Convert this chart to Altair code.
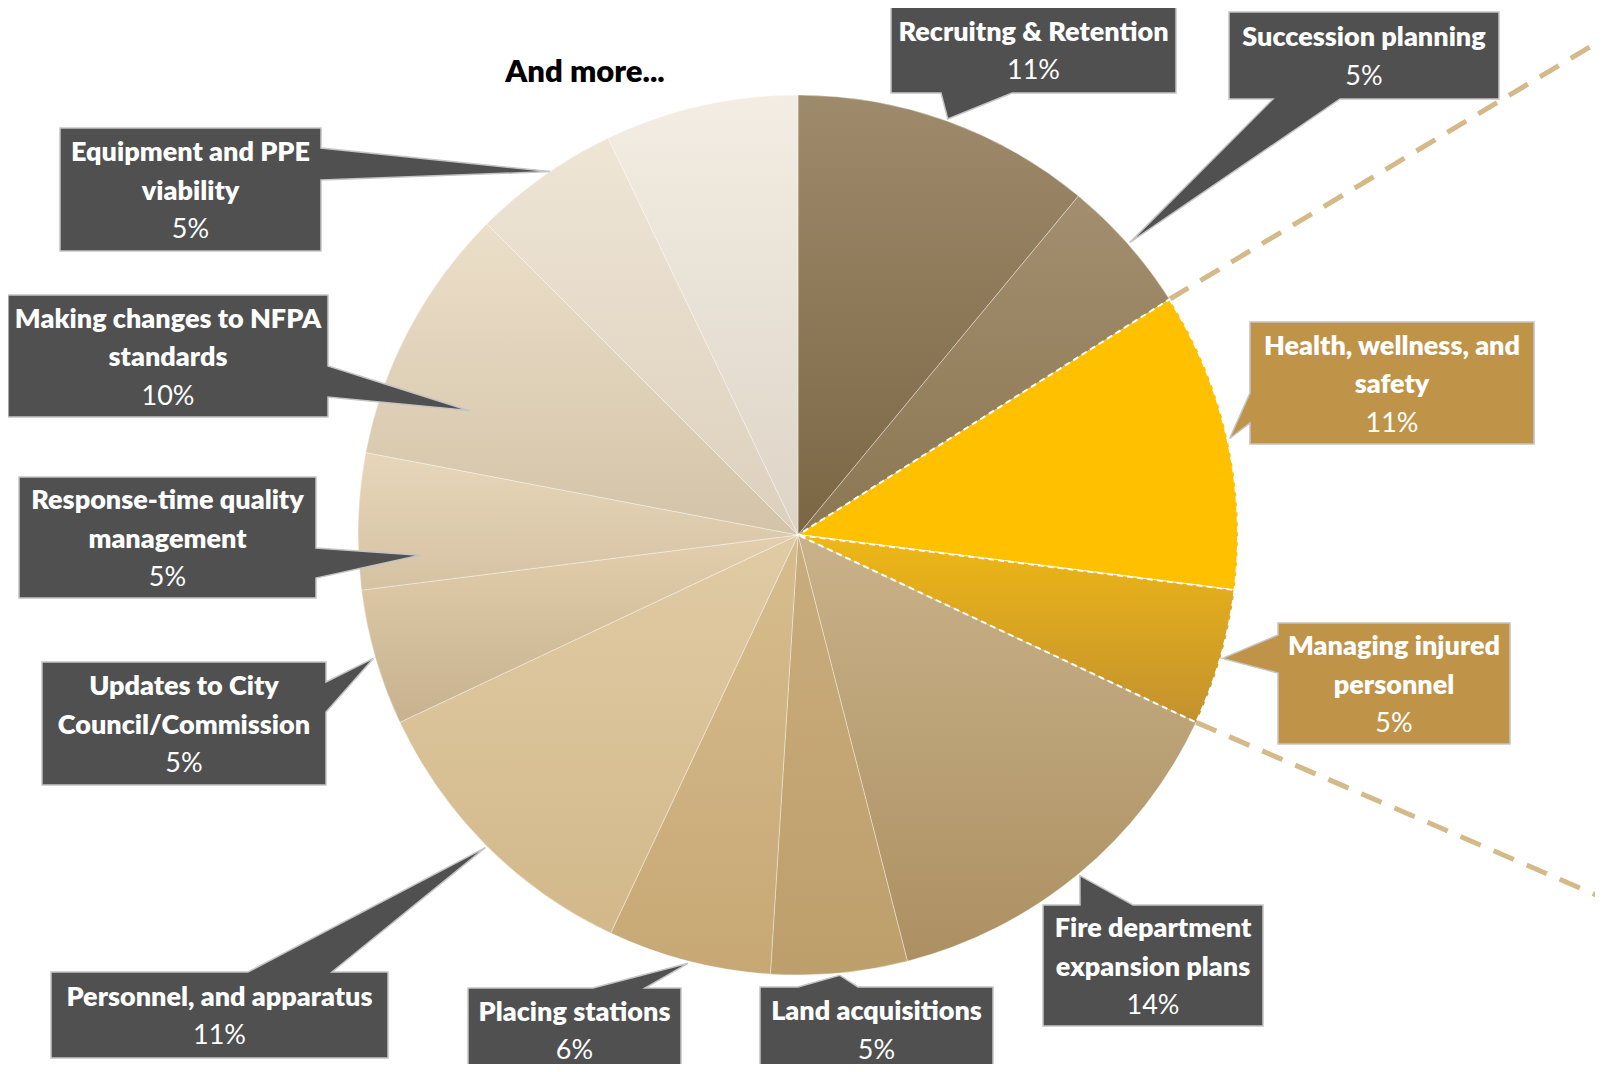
import math
import altair as alt
import pandas as pd

# ---------------- data ----------------
categories = [
    "Recruitng & Retention", "Succession planning", "Health, wellness, and safety",
    "Managing injured personnel", "Fire department expansion plans", "Land acquisitions",
    "Placing stations", "Personnel, and apparatus", "Updates to City Council/Commission",
    "Response-time quality management", "Making changes to NFPA standards",
    "Equipment and PPE viability", "And more...",
]
values = [11, 5, 11, 5, 14, 5, 6, 11, 5, 5, 9.5, 5.4, 7.1]
label_lines = [
    ["Recruitng & Retention"], ["Succession planning"], ["Health, wellness, and", "safety"],
    ["Managing injured", "personnel"], ["Fire department", "expansion plans"],
    ["Land acquisitions"], ["Placing stations"], ["Personnel, and apparatus"],
    ["Updates to City", "Council/Commission"], ["Response-time quality", "management"],
    ["Making changes to NFPA", "standards"], ["Equipment and PPE", "viability"], None,
]
highlight = [False, False, True, True, False, False, False, False, False, False, False, False, False]

# ---------------- styles ----------------
grad_top = ["#9e8b6b", "#a38f6f", "#FFC000", "#efb815", "#c9b189", "#c9ad7c", "#d7bd8e",
            "#e1cba5", "#e3cfad", "#e8d6ba", "#ecdfc9", "#efe5d5", "#f3ede3"]
grad_bot = ["#7b6644", "#8b7752", "#FFC000", "#c3912f", "#ac9062", "#bd9f6c", "#c7a875",
            "#d2b88a", "#c7b18e", "#d5c2a3", "#d3c3a8", "#dcd0bd", "#ddd4c6"]
DARK = "#505050"
GOLD = "#BF9448"
FONT = "Lato"
OFF = 8  # page margin
W, H = 1587, 1056
CX, CY, R = 798, 535, 440  # image coordinates
LH = 38.5
TEXT_DY = 2

# callout layout: box (x0,y0,x1,y1), side, pointer base (b0,b1), tip fraction in slice, tip radius factor
layout = [
    (891, 7, 1176, 93, "bottom", 941, 1012, 0.5, 1.005),
    (1229, 12, 1499, 99, "bottom", 1273, 1340, 0.5, 1.005),
    (1250, 322, 1534, 444, "left", 393, 423, 0.5, 1.005),
    (1278, 623, 1510, 744, "left", 635, 673, 0.5, 1.005),
    (1043, 905, 1263, 1026, "top", 1080, 1133, 0.5, 1.005),
    (760, 987, 993, 1072, "top", 798, 858, 0.5, 1.005),
    (468, 988, 681, 1072, "top", 593, 645, 0.5, 1.005),
    (51, 972, 388, 1058, "top", 248, 332, 0.5, 1.005),
    (42, 662, 326, 785, "right", 682, 712, 0.5, 1.005),
    (19, 477, 316, 598, "right", 548, 578, 0.23, 0.86),
    (8, 295, 328, 417, "right", 366, 397, 0.29, 0.80),
    (60, 128, 321, 251, "right", 148, 180, 0.55, 1.0),
    None,
]
more_pos = (585, 73)
rule_ends = [(1603, 39), (1603, 898)]

total = sum(values)
cum = []
s = 0
for v in values:
    cum.append(s)
    s += v


def ang(val):
    return 2 * math.pi * val / total


def polar(a, r):
    return CX + r * math.sin(a), CY - r * math.cos(a)


# ---------------- slices ----------------
df = pd.DataFrame({"idx": list(range(len(values))), "category": categories, "value": values})
base = alt.Chart(df).transform_window(
    cum="sum(value)", sort=[alt.SortField("idx", order="ascending")], frame=[None, 0]
).transform_calculate(start="datum.cum - datum.value")
theta_scale = alt.Scale(domain=[0, total], range=[0, 2 * math.pi])

arc_layers = []
order = [i for i in range(len(values)) if not highlight[i]] + [i for i in range(len(values)) if highlight[i]]
for i in order:
    grad = alt.LinearGradient(
        gradient="linear",
        stops=[alt.GradientStop(color=grad_top[i], offset=0), alt.GradientStop(color=grad_bot[i], offset=1)],
        x1=0, x2=0, y1=0, y2=1,
    )
    if highlight[i]:
        mk = dict(stroke="white", strokeDash=[6, 4], strokeWidth=2)
    else:
        mk = dict(stroke="white", strokeWidth=0.8, strokeOpacity=0.45)
    arc_layers.append(
        base.transform_filter(f"datum.idx == {i}")
        .mark_arc(radius=R, fill=grad, **mk)
        .encode(
            theta=alt.Theta("start:Q", scale=theta_scale),
            theta2="cum:Q",
            x=alt.value(CX - OFF),
            y=alt.value(CY - OFF),
        )
    )

# ---------------- connector dashed lines ----------------
b1 = ang(cum[2])  # end of Succession planning
b2 = ang(cum[4])  # end of Managing injured personnel
rows = []
for a, (ex, ey) in zip([b1, b2], rule_ends):
    sx, sy = polar(a, R)
    rows.append({"x": sx - OFF, "y": sy - OFF, "x2": ex - OFF, "y2": ey - OFF})
rules = alt.Chart(pd.DataFrame(rows)).mark_rule(
    color="#D4B989", strokeWidth=5, strokeDash=[22, 14]
).encode(
    x=alt.X("x:Q", scale=None, axis=None), y=alt.Y("y:Q", scale=None, axis=None),
    x2="x2:Q", y2="y2:Q",
)

# ---------------- callouts ----------------
co_rows, name_rows, pct_rows = [], [], []
for i, lay in enumerate(layout):
    if lay is None:
        continue
    x0, y0, x1, y1, side, p0, p1, frac, rf = lay
    tip = polar(ang(cum[i] + frac * values[i]), rf * R)
    pts = [(x0, y0)]
    if side == "top":
        pts += [(p0, y0), tip, (p1, y0)]
    pts.append((x1, y0))
    if side == "right":
        pts += [(x1, p0), tip, (x1, p1)]
    pts.append((x1, y1))
    if side == "bottom":
        pts += [(p1, y1), tip, (p0, y1)]
    pts.append((x0, y1))
    if side == "left":
        pts += [(x0, p1), tip, (x0, p0)]
    ax, ay = (x0 + x1) / 2, (y0 + y1) / 2
    path = "M" + " L".join(f"{px - ax:.1f},{py - ay:.1f}" for px, py in pts) + " Z"
    co_rows.append({"ax": ax - OFF, "ay": ay - OFF, "path": path,
                    "fill": GOLD if highlight[i] else DARK})
    lines = label_lines[i]
    n = len(lines) + 1
    for k, t in enumerate(lines):
        name_rows.append({"x": ax - OFF, "y": ay + TEXT_DY + (k - (n - 1) / 2) * LH - OFF, "text": t})
    pct_rows.append({"x": ax - OFF, "y": ay + TEXT_DY + ((n - 1) - (n - 1) / 2) * LH - OFF,
                     "text": f"{round(values[i])}%"})

callouts = alt.Chart(pd.DataFrame(co_rows)).mark_point(
    filled=True, size=4, opacity=1, strokeWidth=1.5
).encode(
    x=alt.X("ax:Q", scale=None, axis=None), y=alt.Y("ay:Q", scale=None, axis=None),
    shape=alt.Shape("path:N", scale=None, legend=None),
    fill=alt.Fill("fill:N", scale=None, legend=None),
    stroke=alt.value("#C4C4C4"),
)

names = alt.Chart(pd.DataFrame(name_rows)).mark_text(
    font=FONT, fontSize=27, fontWeight=800, color="white", align="center", baseline="middle"
).encode(x=alt.X("x:Q", scale=None, axis=None), y=alt.Y("y:Q", scale=None, axis=None), text="text:N")

pcts = alt.Chart(pd.DataFrame(pct_rows)).mark_text(
    font=FONT, fontSize=27, fontWeight="normal", color="white", align="center", baseline="middle"
).encode(x=alt.X("x:Q", scale=None, axis=None), y=alt.Y("y:Q", scale=None, axis=None), text="text:N")

more = alt.Chart(pd.DataFrame({"x": [more_pos[0] - OFF], "y": [more_pos[1] - OFF],
                               "text": [categories[-1]]})).mark_text(
    font=FONT, fontSize=31, fontWeight=800, color="black", align="center", baseline="middle"
).encode(x=alt.X("x:Q", scale=None, axis=None), y=alt.Y("y:Q", scale=None, axis=None), text="text:N")

chart = alt.layer(rules, *arc_layers, callouts, names, pcts, more).properties(
    width=W, height=H, padding=0, autosize=alt.AutoSizeParams(type="none"), background="white"
).configure_view(stroke=None)

chart.save("out.html", embed_options={"renderer": "svg", "actions": False})
